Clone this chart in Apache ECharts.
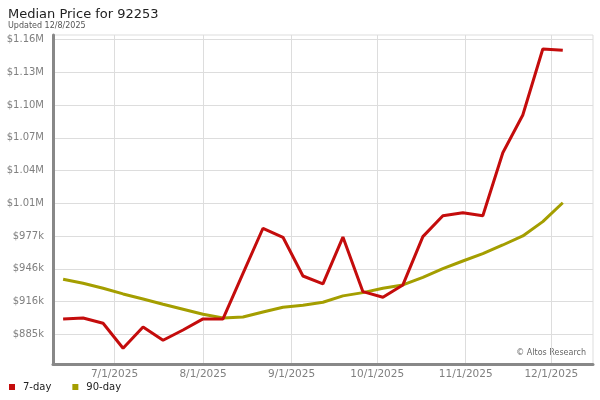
<!DOCTYPE html>
<html>
<head>
<meta charset="utf-8">
<script src="https://cdn.jsdelivr.net/npm/echarts@6/dist/echarts.min.js"></script>
<style>html,body{margin:0;padding:0;background:#fff}#c{width:600px;height:400px}</style>
</head>
<body>
<div id="c"></div>
<script>
const dates = ['2025-06-13','2025-06-20','2025-06-27','2025-07-04','2025-07-11','2025-07-18','2025-07-25','2025-08-01','2025-08-08','2025-08-15','2025-08-22','2025-08-29','2025-09-05','2025-09-12','2025-09-19','2025-09-26','2025-10-03','2025-10-10','2025-10-17','2025-10-24','2025-10-31','2025-11-07','2025-11-14','2025-11-21','2025-11-28','2025-12-05'];
const sevenDay = [899300,900200,895300,872000,891800,879400,889000,899300,899300,941800,983800,975400,939300,931900,975600,924700,919500,931000,976000,995500,998300,995500,1054200,1089400,1150900,1149600];
const ninetyDay = [936300,932500,927900,922600,917900,913000,908300,903600,900200,901100,905800,910200,912000,914800,920800,923800,927900,931000,938100,946100,953300,960100,968200,976600,990000,1007600];
const yTicks = [885000,915500,946000,976600,1007100,1037600,1068100,1098600,1129100,1159700];
const xTicks = ['2025-07-01','2025-08-01','2025-09-01','2025-10-01','2025-11-01','2025-12-01'];

const font = 'DejaVu Sans';
const chart = echarts.init(document.getElementById('c'), null, {renderer:'canvas'});
function fmtY(v){
  if (v >= 1e6) return '$' + (v/1e6).toFixed(2) + 'M';
  return '$' + Math.round(v/1000) + 'k';
}
chart.setOption({
  animation:false,
  textStyle:{fontFamily:font},
  title:{
    text:'Median Price for 92253',
    subtext:'Updated 12/8/2025',
    left:3, top:3, itemGap:1,
    textStyle:{fontSize:13, fontWeight:'normal', color:'#222', fontFamily:font},
    subtextStyle:{fontSize:8, color:'#555', fontFamily:font}
  },
  legend:{
    left:4, top:377, icon:'rect', itemWidth:6, itemHeight:6, itemGap:21,
    textStyle:{fontSize:10, color:'#222', fontFamily:font, padding:[0,0,0,3]},
    data:['7-day','90-day']
  },
  grid:{left:53, right:7, top:35, bottom:36, show:true, borderColor:'#ddd', borderWidth:1},
  xAxis:{
    type:'time',
    min:'2025-06-09 11:00', max:'2025-12-15 14:00',
    axisLine:{lineStyle:{color:'#888', width:3}},
    axisTick:{show:false, customValues:xTicks},
    axisLabel:{customValues:xTicks, formatter:'{M}/{d}/{yyyy}', color:'#808080', fontSize:10.5, fontFamily:font, margin:5, hideOverlap:false},
    splitLine:{show:true, lineStyle:{color:'#ddd', width:1}}
  },
  yAxis:{
    type:'value',
    min:857300, max:1163900,
    axisLine:{show:true, lineStyle:{color:'#888', width:3}},
    axisTick:{show:false, customValues:yTicks},
    axisLabel:{customValues:yTicks, formatter:fmtY, color:'#808080', fontSize:10, fontFamily:font, margin:9},
    splitLine:{show:true, lineStyle:{color:'#ddd', width:1}}
  },
  graphic:[{
    type:'text', right:14, top:349,
    style:{text:'\u00a9 Altos Research', fill:'#666', font:'8px "DejaVu Sans"'}
  }],
  series:[
    {name:'7-day', type:'line', data:dates.map((d,i)=>[d, sevenDay[i]]), showSymbol:false, symbol:'none',
     lineStyle:{color:'#c40c0c', width:3}, itemStyle:{color:'#c40c0c'}, z:3},
    {name:'90-day', type:'line', data:dates.map((d,i)=>[d, ninetyDay[i]]), showSymbol:false, symbol:'none',
     lineStyle:{color:'#a49e00', width:3}, itemStyle:{color:'#a49e00'}, z:2}
  ]
});
</script>
</body>
</html>
